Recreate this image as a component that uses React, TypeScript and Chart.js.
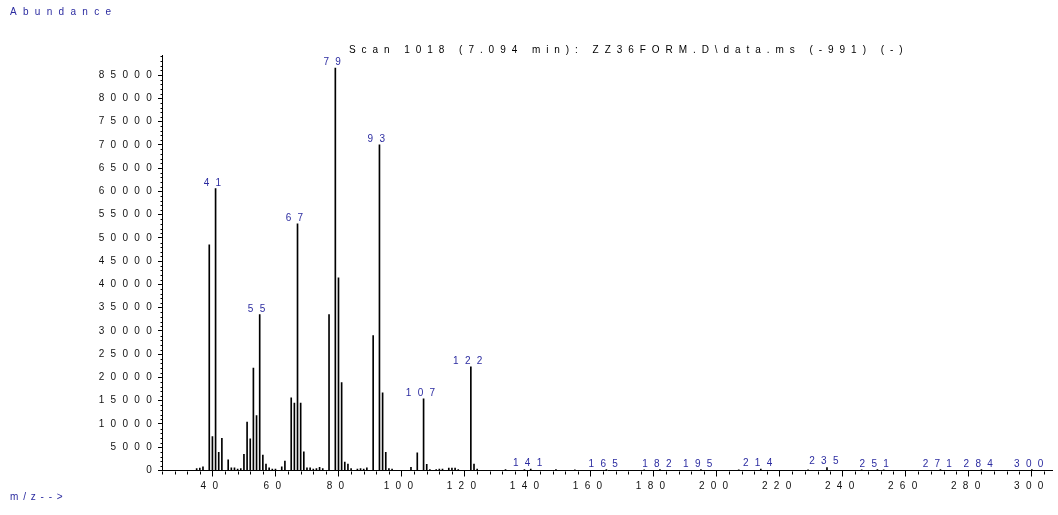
import { useEffect, useRef } from 'react';
import { Chart, registerables } from 'chart.js';

Chart.register(...registerables);

// m/z values of the spectrum lines
const masses = [
  35, 36, 37, 39, 40, 41, 42, 43, 45, 46, 47, 48, 49, 50, 51, 52, 53, 54, 55, 56,
  57, 58, 59, 60, 62, 63, 65, 66, 67, 68, 69, 70, 71, 72, 73, 74, 75, 77, 79, 80,
  81, 82, 83, 84, 86, 87, 88, 89, 91, 93, 94, 95, 96, 97, 103, 105, 107, 108, 109, 111,
  112, 113, 115, 116, 117, 118, 122, 123, 124, 133, 139, 141, 149, 155, 165, 177, 182, 195, 207, 214,
  229, 235, 246, 251, 253, 271, 284, 300,
];

// abundances for each m/z above
const abundances = [
  400, 500, 800, 48500, 7300, 60600, 3900, 6900, 2300, 600, 600, 300, 400, 3500, 10400, 6800, 22000, 11800, 33500, 3300,
  1400, 600, 300, 300, 800, 2000, 15600, 14500, 53000, 14500, 4000, 600, 600, 300, 400, 700, 400, 33500, 86500, 41400,
  18900, 1800, 1400, 400, 300, 400, 300, 600, 29000, 70000, 16700, 3900, 400, 300, 700, 3800, 15400, 1300, 200, 200,
  300, 300, 500, 500, 500, 200, 22300, 1400, 300, 200, 200, 300, 200, 150, 200, 150, 200, 200, 150, 300,
  150, 650, 150, 200, 150, 200, 200, 200,
];

// peaks that carry an m/z label
const labeledMasses = [41, 55, 67, 79, 93, 107, 122, 141, 165, 182, 195, 214, 235, 251, 271, 284, 300];

// axis tick labels
const xTickValues = [40, 60, 80, 100, 120, 140, 160, 180, 200, 220, 240, 260, 280, 300];
const yTickValues = [
  0, 5000, 10000, 15000, 20000, 25000, 30000, 35000, 40000, 45000,
  50000, 55000, 60000, 65000, 70000, 75000, 80000, 85000,
];

const titleText = 'Scan 1018 (7.094 min): ZZ36FORM.D\\data.ms (-991) (-)';
const yAxisTitle = 'Abundance';
const xAxisTitle = 'm/z-->';

const X_MIN = 24;
const X_MAX = 306.4;
const Y_MAX = 89300;
const X_MINOR = 4;
const Y_MINOR = 1000;

const FONT_FAMILY = '"Liberation Sans", Arial, sans-serif';
const FONT_SIZE = 10;
const LS = '6.3px';
const LS_TITLE = '5.95px';
const LS_MZ = '4.8px';
const BLUE = '#2b2ba0';

const decorPlugin = {
  id: 'decor',
  beforeDraw(chart: any) {
    const ctx = chart.ctx;
    try { ctx.letterSpacing = LS; } catch (e) {}
  },
  afterDraw(chart: any) {
    const ctx = chart.ctx;
    const xs = chart.scales.x;
    const ys = chart.scales.y;
    ctx.save();
    try { ctx.letterSpacing = LS; } catch (e) {}
    // minor ticks
    ctx.strokeStyle = '#000';
    ctx.lineWidth = 1;
    ctx.beginPath();
    const base = Math.round(ys.getPixelForValue(0)) + 0.5;
    for (let v = Math.ceil(X_MIN / X_MINOR) * X_MINOR; v <= X_MAX; v += X_MINOR) {
      if (xTickValues.indexOf(v) >= 0) continue;
      const px = Math.round(xs.getPixelForValue(v)) + 0.5;
      ctx.moveTo(px, base);
      ctx.lineTo(px, base + 3);
    }
    const ax = Math.round(xs.left) + 0.5;
    for (let v = Y_MINOR; v <= Y_MAX; v += Y_MINOR) {
      if (yTickValues.indexOf(v) >= 0) continue;
      const py = Math.round(ys.getPixelForValue(v)) + 0.5;
      ctx.moveTo(ax, py);
      ctx.lineTo(ax - 2, py);
    }
    ctx.stroke();

    // peak labels
    ctx.font = `${FONT_SIZE}px ${FONT_FAMILY}`;
    ctx.fillStyle = BLUE;
    ctx.textAlign = 'center';
    ctx.textBaseline = 'alphabetic';
    labeledMasses.forEach((m) => {
      const i = masses.indexOf(m);
      if (i < 0) return;
      const px = xs.getPixelForValue(m);
      const py = ys.getPixelForValue(abundances[i]);
      ctx.fillText(String(m), px, py - 3);
    });

    // axis titles
    ctx.textAlign = 'left';
    ctx.textBaseline = 'middle';
    ctx.fillText(yAxisTitle, 10, 12);
    try { ctx.letterSpacing = LS_MZ; } catch (e) {}
    ctx.fillText(xAxisTitle, 10, 497);

    // scan title
    try { ctx.letterSpacing = LS_TITLE; } catch (e) {}
    ctx.fillStyle = '#000';
    ctx.fillText(titleText, 349, 50);
    ctx.restore();
  },
};

export default function App() {
  const ref = useRef<HTMLCanvasElement>(null);
  useEffect(() => {
    document.body.style.margin = '0';
    const canvas = ref.current!;
    const chart = new Chart(canvas, {
      type: 'bar',
      data: {
        datasets: [
          {
            data: masses.map((m, i) => ({ x: m, y: abundances[i] })),
            backgroundColor: '#000',
            borderWidth: 0,
            barThickness: 1,
          },
        ],
      },
      options: {
        responsive: false,
        animation: false,
        layout: { padding: { top: 55, right: 6, left: 0, bottom: 0 } },
        plugins: {
          legend: { display: false },
          tooltip: { enabled: false },
          title: { display: false },
        },
        scales: {
          x: {
            type: 'linear',
            min: X_MIN,
            max: X_MAX,
            offset: false,
            border: { display: true, color: '#000', width: 1 },
            grid: { drawOnChartArea: false, offset: false, tickLength: 6, tickColor: '#000', tickWidth: 1 },
            ticks: {
              autoSkip: false,
              maxRotation: 0,
              padding: 4,
              color: '#111',
              font: { family: FONT_FAMILY, size: FONT_SIZE },
              callback: (v: any) => String(v),
            },
            afterBuildTicks: (s: any) => {
              s.ticks = xTickValues.map((v) => ({ value: v }));
            },
            afterFit: (s: any) => {
              s.height = 44.5;
            },
          },
          y: {
            type: 'linear',
            min: 0,
            max: Y_MAX,
            border: { display: true, color: '#000', width: 1 },
            grid: { drawOnChartArea: false, tickLength: 4, tickColor: '#000', tickWidth: 1 },
            ticks: {
              autoSkip: false,
              padding: 0,
              color: '#111',
              font: { family: FONT_FAMILY, size: FONT_SIZE },
              callback: (v: any) => String(v),
            },
            afterBuildTicks: (s: any) => {
              s.ticks = yTickValues.map((v) => ({ value: v }));
            },
            afterFit: (s: any) => {
              s.width = 162;
            },
          },
        },
      },
      plugins: [decorPlugin],
    } as any);
    return () => chart.destroy();
  }, []);
  return (
    <div style={{ position: 'absolute', left: 0, top: 0, width: 1058, height: 515, background: '#fff' }}>
      <canvas ref={ref} width={1058} height={515} style={{ display: 'block', width: 1058, height: 515 }} />
    </div>
  );
}
